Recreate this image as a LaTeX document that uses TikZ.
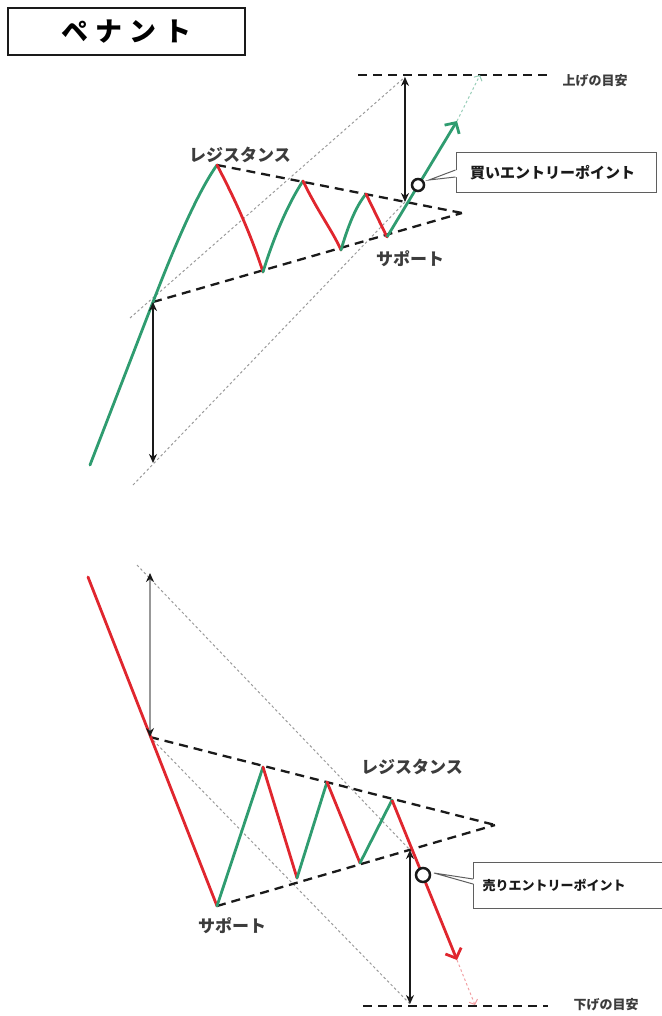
\documentclass[tikz,border=0pt]{standalone}
\usepackage{fontspec}
\newfontfamily\jpfont{Noto Sans CJK JP}
\usetikzlibrary{arrows.meta,positioning,calc}
\definecolor{penup}{HTML}{2F9C70}
\definecolor{pendn}{HTML}{E0262E}
\definecolor{penink}{HTML}{1A1A1A}
\definecolor{penmute}{HTML}{9A9A9A}
\tikzset{
  up/.style={draw=penup, line width=2.8pt, line cap=round},
  dn/.style={draw=pendn, line width=2.8pt, line cap=round},
  trend/.style={draw=penink, line width=2.3pt, dash pattern=on 9pt off 6pt},
  guide/.style={draw=penmute, line width=1pt, dash pattern=on 2.5pt off 2.5pt},
  span/.style={{Stealth[length=9pt,width=8pt,color=penink]}-{Stealth[length=9pt,width=8pt,color=penink]}, line width=1.7pt, draw=penink},
  lbl/.style={font=\jpfont\bfseries\fontsize{17}{17}\selectfont, text=penink!85, inner sep=0pt},
  goal/.style={font=\jpfont\bfseries\fontsize{13}{13}\selectfont, text=penink!85, inner sep=0pt},
  entry/.style={circle, draw=penink, line width=2.5pt, fill=white, minimum size=12pt, inner sep=0pt},
  note/.style={draw=penink!70, line width=1pt, fill=white, align=left, minimum height=40pt, inner ysep=0pt, text=penink},
  notel/.style={draw=penink!70, line width=1pt},
}
\begin{document}
\begin{tikzpicture}[x=1pt, y=-1pt]
  \useasboundingbox (0,0) rectangle (661,1016);
  \node[draw=penink, line width=1.3pt, minimum width=237pt, minimum height=47pt,
    font=\jpfont\bfseries\fontsize{27}{27}\selectfont\addfontfeature{LetterSpace=26}] (ttl) at (126.5,31.5) {ペナント};

  % upper pennant
  \coordinate (ubase) at (90,465);
  \coordinate (upole) at (153,302);
  \coordinate (uh1) at (217,165);
  \coordinate (ul1) at (263,272);
  \coordinate (uh2) at (303,181);
  \coordinate (ul2) at (341,250);
  \coordinate (uh3) at (366,194);
  \coordinate (ul3) at (387,237);
  \coordinate (uapex) at (462,213);
  \coordinate (ubrk) at (405,202);
  \coordinate (ugoal) at (405,77);
  \coordinate (utip) at (457,121);
  \coordinate (uend) at (480,75);
  \coordinate (ufoot) at (153,463);
  \coordinate (ug0) at (130,318);
  \coordinate (ug1) at (133,485);
  \coordinate (uline0) at (358,75);
  \coordinate (uline1) at (548,75);

  \draw[guide] (ug0) -- (ugoal);
  \draw[guide] (ug1) -- (ubrk);
  \draw[trend] (uh1) -- (uapex);
  \draw[trend] (upole) -- (uapex);
  \draw[trend] (uline0) -- (uline1);
  \draw[up] (ubase) -- (upole) .. controls (173,250) and (197,193) .. (uh1);
  \draw[dn] (uh1) .. controls (238,205) and (252,238) .. (ul1);
  \draw[up] (ul1) .. controls (274,236) and (289,202) .. (uh2);
  \draw[dn] (uh2) .. controls (318,212) and (332,230) .. (ul2);
  \draw[up] (ul2) .. controls (348,226) and (356,206) .. (uh3);
  \draw[dn] (uh3) -- (ul3);
  \draw[draw=penup!50, line width=1pt, dash pattern=on 2.5pt off 2.5pt, -{Straight Barb[length=4pt,width=9pt]}] (utip) -- (uend);
  \draw[up, line cap=butt, -{Straight Barb[length=8pt,width=17pt]}] (ul3) -- (utip);
  \draw[span] (upole) -- (ufoot);
  \draw[span] (ubrk) -- (ugoal);
  \node[entry] (ubuy) at (418,185) {};
  \node[lbl] (ures) at (240,155) {レジスタンス};
  \node[lbl] (usup) at (410,259) {サポート};
  \node[goal] (uaim) at (595,81) {上げの目安};
  \node[note, text width=172pt, inner xsep=14pt, font=\jpfont\bfseries\fontsize{15}{15}\selectfont] (buy) at (556,173) {買いエントリーポイント};
  \coordinate (buyptr) at (429,180);
  \fill[white] ($(buy.west)+(1.5,-3)$) -- (buyptr) -- ($(buy.west)+(1.5,4)$) -- cycle;
  \draw[notel] ($(buy.west)+(0,-3)$) -- (buyptr) -- ($(buy.west)+(0,4)$);

  % lower pennant
  \coordinate (lbase) at (88,577);
  \coordinate (lpole) at (150,737);
  \coordinate (ll1) at (217,906);
  \coordinate (lh1) at (263,767);
  \coordinate (ll2) at (297,878);
  \coordinate (lh2) at (327,782);
  \coordinate (ll3) at (360,863);
  \coordinate (lh3) at (392,800);
  \coordinate (lapex) at (495,825);
  \coordinate (lbrk) at (410,850);
  \coordinate (lgoal) at (410,1004);
  \coordinate (ltip) at (457,960);
  \coordinate (lend) at (475,1005);
  \coordinate (lhead) at (150,573);
  \coordinate (lg0) at (137,565);
  \coordinate (lline0) at (363,1006);
  \coordinate (lline1) at (548,1006);

  \draw[guide] (lg0) -- (lbrk);
  \draw[guide] (lpole) -- (lgoal);
  \draw[trend] (lpole) -- (lapex);
  \draw[trend] (ll1) -- (lapex);
  \draw[trend] (lline0) -- (lline1);
  \draw[dn] (lbase) -- (ll1);
  \draw[up] (ll1) -- (lh1);
  \draw[dn] (lh1) -- (ll2);
  \draw[up] (ll2) -- (lh2);
  \draw[dn] (lh2) -- (ll3);
  \draw[up] (ll3) -- (lh3);
  \draw[draw=pendn!45, line width=1pt, dash pattern=on 2.5pt off 2.5pt, -{Straight Barb[length=4pt,width=9pt]}] (ltip) -- (lend);
  \draw[dn, line cap=butt, -{Straight Barb[length=8pt,width=17pt]}] (lh3) -- (ltip);
  \draw[span, draw=penink!45] (lpole) -- (lhead);
  \draw[span] (lbrk) -- (lgoal);
  \node[entry, minimum size=14pt] (lsell) at (423,875) {};
  \node[lbl] (lres) at (412,767) {レジスタンス};
  \node[lbl] (lsup) at (232,926) {サポート};
  \node[goal] (laim) at (606,1005) {下げの目安};
  \node[note, minimum height=46pt, text width=171pt, inner xsep=9pt, font=\jpfont\bfseries\fontsize{13}{13}\selectfont] (sell) at (568,885) {売りエントリーポイント};
  \coordinate (sellptr) at (434,873);
  \fill[white] ($(sell.west)+(1.5,-6)$) -- (sellptr) -- ($(sell.west)+(1.5,-1)$) -- cycle;
  \draw[notel] ($(sell.west)+(0,-6)$) -- (sellptr) -- ($(sell.west)+(0,-1)$);
\end{tikzpicture}
\end{document}
